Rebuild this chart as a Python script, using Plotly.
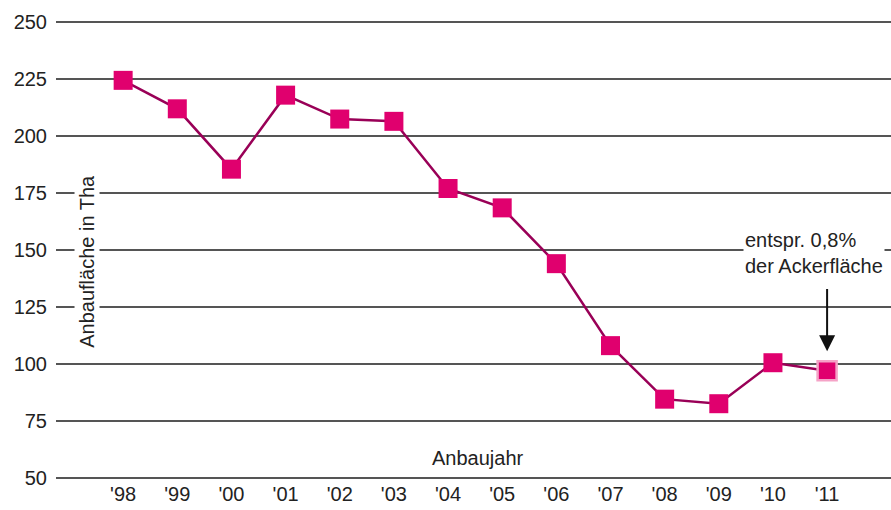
import plotly.graph_objects as go

# Anbaufläche (Tha) je Anbaujahr
years = ["'98", "'99", "'00", "'01", "'02", "'03", "'04", "'05", "'06", "'07", "'08", "'09", "'10", "'11"]
area = [224.5, 212, 185.5, 218, 207.5, 206.5, 177, 168.5, 144, 108, 84.5, 82.5, 100.5, 97]
y_ticks = [50, 75, 100, 125, 150, 175, 200, 225, 250]

x_idx = list(range(len(years)))
font = "Liberation Sans, Arial, sans-serif"
fs = 20

fig = go.Figure()
fig.add_trace(go.Scatter(
    x=x_idx, y=area, mode="lines+markers",
    line=dict(color="#990057", width=2.5),
    marker=dict(symbol="square", size=19, color="#e0006e",
                line=dict(width=[0] * (len(area) - 1) + [2.5],
                          color="#f5a3c7")),
    hoverinfo="y",
))

fig.update_layout(
    width=891, height=510,
    margin=dict(l=56, r=0, t=20, b=30),
    plot_bgcolor="white", paper_bgcolor="white",
    showlegend=False,
    font=dict(family=font, size=fs, color="#222"),
    xaxis=dict(range=[-1.24, 14.18], tickvals=x_idx, ticktext=years,
               showgrid=False, zeroline=False, showline=False,
               ticks="", tickfont=dict(size=fs)),
    yaxis=dict(range=[49, 251], tickvals=y_ticks, showgrid=True,
               gridcolor="#555", gridwidth=1.5, zeroline=False,
               showline=False, ticks="", ticklabelstandoff=8,
               tickfont=dict(size=fs)),
)

# y-axis title placed inside the plot with a white background
fig.add_annotation(x=-0.66, y=145, xref="x", yref="y", text="Anbaufläche in Tha",
                   textangle=-90, showarrow=False, bgcolor="white",
                   font=dict(size=fs, color="#222"))
fig.add_annotation(x=6.55, y=58.5, xref="x", yref="y", text="Anbaujahr",
                   showarrow=False, font=dict(size=fs, color="#222"))
fig.add_annotation(x=11.45, y=148.5, xref="x", yref="y",
                   text="entspr. 0,8%<br>der Ackerfläche", align="left",
                   xanchor="left", showarrow=False, bgcolor="white",
                   font=dict(size=fs, color="#222"))
fig.add_annotation(x=13, y=105.5, ax=13, ay=133.5, xref="x", yref="y",
                   axref="x", ayref="y", text="", showarrow=True,
                   arrowhead=2, arrowsize=1.6, arrowwidth=2, arrowcolor="#111")

# remove the browser's default page margin so the figure fills the window
fig.write_html("out.html", config={"displayModeBar": False},
               post_script="document.body.style.margin='0';")
